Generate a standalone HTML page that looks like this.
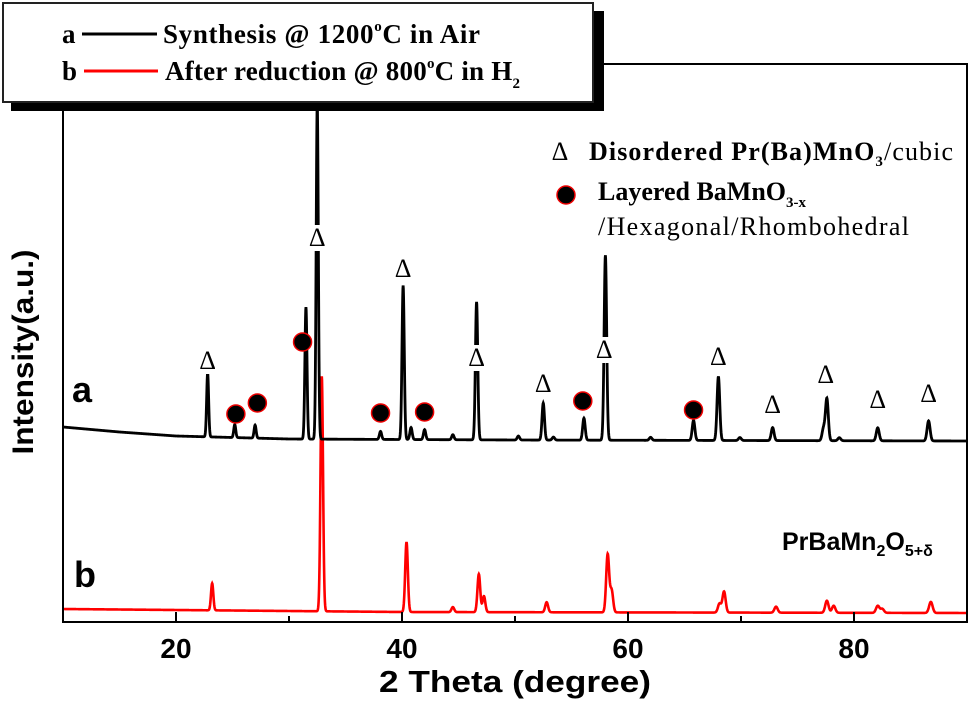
<!DOCTYPE html>
<html><head><meta charset="utf-8"><style>
html,body{margin:0;padding:0;background:#fff;}
svg{display:block;}
</style></head><body>
<svg id="chart" width="973" height="708" viewBox="0 0 973 708" xmlns="http://www.w3.org/2000/svg">
  <rect x="0" y="0" width="973" height="708" fill="#fff"/>
  <g id="plot"></g>
  <g id="annot"></g>
  <g id="axes"></g>
  <text x="72" y="402" font-family="Liberation Sans, sans-serif" font-weight="bold" font-size="36">a</text>
  <text x="74" y="587" font-family="Liberation Sans, sans-serif" font-weight="bold" font-size="36">b</text>
  <text x="782" y="550" font-family="Liberation Sans, sans-serif" font-weight="bold" font-size="25">PrBaMn<tspan font-size="16" dy="6">2</tspan><tspan dy="-6">O</tspan><tspan font-size="16" dy="6">5+δ</tspan></text>
  <text x="515" y="692" text-anchor="middle" font-family="Liberation Sans, sans-serif" font-weight="bold" font-size="31" textLength="272" lengthAdjust="spacingAndGlyphs">2 Theta (degree)</text>
  <text transform="translate(33,352) rotate(-90)" text-anchor="middle" font-family="Liberation Sans, sans-serif" font-weight="bold" font-size="30" textLength="205" lengthAdjust="spacingAndGlyphs">Intensity(a.u.)</text>
  <g font-family="Liberation Serif, serif">
    <text x="560" y="160" text-anchor="middle" font-size="26">Δ</text>
    <text x="589" y="160" font-size="26" textLength="364" lengthAdjust="spacing"><tspan font-weight="bold">Disordered Pr(Ba)MnO</tspan><tspan font-size="15" dy="6" font-weight="bold">3</tspan><tspan dy="-6">/cubic</tspan></text>
    <circle cx="566" cy="195" r="9" fill="#000" stroke="#e00" stroke-width="1.5"/>
    <text x="598" y="200" font-size="26" font-weight="bold">Layered BaMnO<tspan font-size="15" dy="7">3-x</tspan></text>
    <text x="598" y="235" font-size="26" textLength="311" lengthAdjust="spacing">/Hexagonal/Rhombohedral</text>
  </g>
  <g font-family="Liberation Serif, serif" font-weight="bold" font-size="27">
    <rect x="11" y="11" width="593" height="100" fill="#000"/>
    <rect x="3" y="3" width="590" height="99" fill="#fff" stroke="#222" stroke-width="2"/>
    <text x="62" y="43">a</text>
    <line x1="82" y1="34" x2="157" y2="34" stroke="#000" stroke-width="3"/>
    <text x="163" y="43" textLength="317" lengthAdjust="spacing">Synthesis @ 1200<tspan font-size="15" dy="-12">o</tspan><tspan dy="12">C in Air</tspan></text>
    <text x="62" y="80">b</text>
    <line x1="84" y1="71" x2="158" y2="71" stroke="#f00" stroke-width="3"/>
    <text x="165" y="80" textLength="355" lengthAdjust="spacing">After reduction @ 800<tspan font-size="15" dy="-12">o</tspan><tspan dy="12">C in H</tspan><tspan font-size="15" dy="8">2</tspan></text>
  </g>
</svg>
<script>
// ---- data ----
const xTicks = [20, 40, 60, 80];
const xMinorTicks = [30, 50, 70];
const aBaseDeg = [10, 12, 15, 20, 30, 50, 90];
const aBaseVal = [195, 193, 190, 186, 183, 182, 181];
const aPeakPos = [22.8, 25.2, 27.0, 31.5, 32.5, 38.1, 40.1, 40.8, 42.0, 44.5, 46.6, 50.3, 52.5, 53.4, 56.1, 58.0, 62.0, 65.8, 68.0, 69.9, 72.8, 77.3, 77.6, 78.7, 82.1, 86.6];
const aPeakInt = [64, 13, 13, 132, 336, 8, 154, 12, 10, 5, 138, 4, 37, 3, 22, 185, 3, 20, 64, 3, 13, 12, 42, 3, 13, 20];
const bBaseDeg = [10, 40, 90];
const bBaseVal = [13, 10, 9];
const bPeakPos = [23.2, 32.9, 40.4, 44.5, 46.8, 47.25, 52.8, 58.2, 58.55, 68.1, 68.5, 73.1, 77.6, 78.2, 82.1, 82.5, 86.8];
const bPeakInt = [27, 235, 70, 5, 38, 16, 10, 58, 22, 9, 21, 6, 12, 7, 7, 4, 11];
const triDeg = [22.8, 32.5, 40.1, 46.6, 52.5, 57.9, 68.0, 72.8, 77.5, 82.1, 86.6];
const triVal = [262, 385, 354, 265, 239, 273, 266, 218, 248, 223, 229];
const circDeg = [25.3, 27.2, 31.2, 38.1, 42.0, 56.0, 65.8];
const circVal = [208, 219, 280, 209, 210, 221, 212];

// ---- scales ----
const X0 = 63, X1 = 967, Y0 = 622, YT = 64;
const xs = d => X0 + (d - 10) / 80 * (X1 - X0);
const ys = v => Y0 - v;
function interp(xa, ya, x) {
  if (x <= xa[0]) return ya[0];
  for (let i = 1; i < xa.length; i++) if (x <= xa[i]) {
    const t = (x - xa[i-1]) / (xa[i] - xa[i-1]); return ya[i-1] + t * (ya[i] - ya[i-1]);
  }
  return ya[ya.length - 1];
}
function curve(bd, bv, pp, pi, wBase) {
  const pts = [];
  for (let d = 10; d <= 90.001; d += 0.02) {
    let v = interp(bd, bv, d);
    for (let i = 0; i < pp.length; i++) {
      const s = wBase * (1 + (pp[i] - 20) / 120);
      const z = (d - pp[i]) / s; v += pi[i] * Math.exp(-0.5 * z * z);
    }
    pts.push(xs(d).toFixed(2) + ',' + ys(v).toFixed(2));
  }
  return pts.join(' ');
}
const NS = 'http://www.w3.org/2000/svg';
const plot = document.getElementById('plot');
const clip = document.createElementNS(NS, 'clipPath'); clip.id = 'clp';
const cr = document.createElementNS(NS, 'rect');
cr.setAttribute('x', X0); cr.setAttribute('y', 0); cr.setAttribute('width', X1 - X0); cr.setAttribute('height', Y0);
clip.appendChild(cr); document.getElementById('chart').appendChild(clip);
plot.setAttribute('clip-path', 'url(#clp)');

const pb = document.createElementNS(NS, 'polyline');


pb.setAttribute('points', curve(bBaseDeg, bBaseVal, bPeakPos, bPeakInt, 0.1));
pb.setAttribute('fill', 'none'); pb.setAttribute('stroke', '#f00'); pb.setAttribute('stroke-width', '2.6');
plot.appendChild(pb);
const pa = document.createElementNS(NS, 'polyline');


pa.setAttribute('points', curve(aBaseDeg, aBaseVal, aPeakPos, aPeakInt, 0.085));
pa.setAttribute('fill', 'none'); pa.setAttribute('stroke', '#000'); pa.setAttribute('stroke-width', '2.8');
plot.appendChild(pa);

const ann = document.getElementById('annot');
triDeg.forEach((d, i) => {
  const bg = document.createElementNS(NS, 'rect');
  
  
  bg.setAttribute('x', xs(d) - 10); bg.setAttribute('y', ys(triVal[i]) - 12);
  bg.setAttribute('width', 20); bg.setAttribute('height', 26); bg.setAttribute('fill', '#fff');
  ann.appendChild(bg);
  const t = document.createElementNS(NS, 'text');
  
  
  t.setAttribute('x', xs(d)); t.setAttribute('y', ys(triVal[i]) + 9);
  t.setAttribute('text-anchor', 'middle'); t.setAttribute('font-size', '26');
  t.setAttribute('font-family', 'Liberation Serif, serif');
  t.textContent = 'Δ'; ann.appendChild(t);
});
circDeg.forEach((d, i) => {
  const c = document.createElementNS(NS, 'circle');
  
  
  c.setAttribute('cx', xs(d)); c.setAttribute('cy', ys(circVal[i])); c.setAttribute('r', 9);
  c.setAttribute('fill', '#000'); c.setAttribute('stroke', '#e00'); c.setAttribute('stroke-width', '1.5');
  ann.appendChild(c);
});

const ax = document.getElementById('axes');
const fr = document.createElementNS(NS, 'rect');


fr.setAttribute('x', X0); fr.setAttribute('y', YT); fr.setAttribute('width', X1 - X0); fr.setAttribute('height', Y0 - YT);
fr.setAttribute('fill', 'none'); fr.setAttribute('stroke', '#000'); fr.setAttribute('stroke-width', '2');
ax.appendChild(fr);
xTicks.forEach(d => {
  const l = document.createElementNS(NS, 'line');
  
  
  l.setAttribute('x1', xs(d)); l.setAttribute('x2', xs(d)); l.setAttribute('y1', Y0); l.setAttribute('y2', Y0 - 10);
  l.setAttribute('stroke', '#000'); l.setAttribute('stroke-width', '2'); ax.appendChild(l);
  const t = document.createElementNS(NS, 'text');
  
  
  t.setAttribute('x', xs(d)); t.setAttribute('y', 658); t.setAttribute('text-anchor', 'middle');
  t.setAttribute('font-family', 'Liberation Sans, sans-serif'); t.setAttribute('font-weight', 'bold'); t.setAttribute('font-size', '28');
  t.textContent = d; ax.appendChild(t);
});
xMinorTicks.forEach(d => {
  const l = document.createElementNS(NS, 'line');
  
  
  l.setAttribute('x1', xs(d)); l.setAttribute('x2', xs(d)); l.setAttribute('y1', Y0); l.setAttribute('y2', Y0 - 6);
  l.setAttribute('stroke', '#000'); l.setAttribute('stroke-width', '2'); ax.appendChild(l);
});
</script>
</body></html>
